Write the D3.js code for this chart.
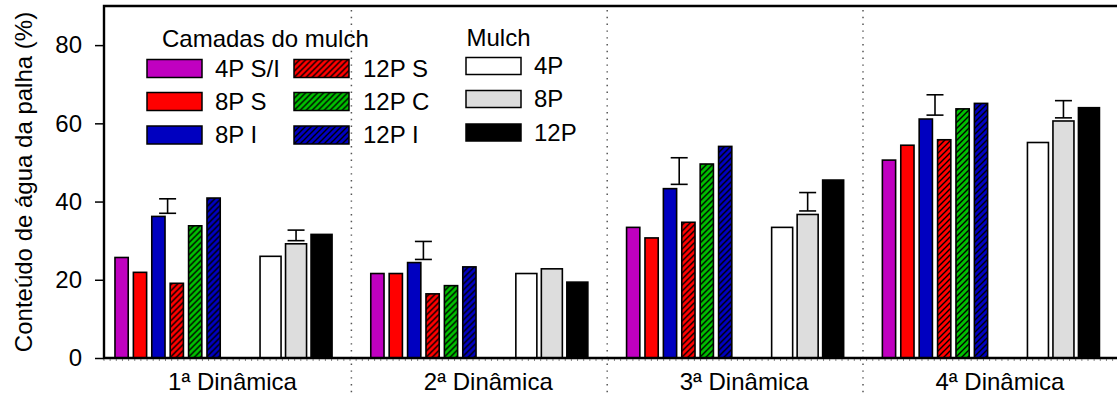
<!DOCTYPE html>
<html>
<head>
<meta charset="utf-8">
<script src="https://cdn.jsdelivr.net/npm/d3@7"></script>
<style>
  html, body { margin: 0; padding: 0; background: #fff; }
  svg { display: block; font-family: "Liberation Sans", Arial, sans-serif; }
</style>
</head>
<body>
<svg id="chart" width="1117" height="396"></svg>
<script>
// Water content of the straw mulch (%) per wetting/drying cycle
const groups = ["1ª Dinâmica", "2ª Dinâmica", "3ª Dinâmica", "4ª Dinâmica"];

// Mulch layers (top / bottom / center of 4, 8 and 12 t straw mulches)
const layers = ["4P S/I", "8P S", "8P I", "12P S", "12P C", "12P I"];
const layerColors = ["#c000c0", "#ff0000", "#0000c0", "#ff0000", "#00c000", "#0000c0"];
const layerHatched = [false, false, false, true, true, true];
const layerValues = [
  [25.7, 21.9, 36.2, 19.1, 33.8, 40.9],
  [21.6, 21.6, 24.4, 16.4, 18.5, 23.3],
  [33.4, 30.7, 43.3, 34.7, 49.6, 54.1],
  [50.6, 54.4, 61.1, 55.8, 63.7, 65.1]
];
// least significant difference bars for the layers (low, high)
const layerLsd = [[37.0, 40.7], [25.2, 29.8], [44.4, 51.2], [62.1, 67.3]];

// Whole mulch amounts
const mulches = ["4P", "8P", "12P"];
const mulchColors = ["#ffffff", "#dddddd", "#000000"];
const mulchValues = [
  [26.0, 29.2, 31.6],
  [21.6, 22.8, 19.4],
  [33.4, 36.7, 45.5],
  [55.1, 60.6, 64.0]
];
const mulchLsd = [[30.0, 32.7], null, [37.6, 42.3], [61.4, 65.8]];

const yTicks = [0, 20, 40, 60, 80];

const svg = d3.select("#chart");
const defs = svg.append("defs");

// diagonal hatching patterns for the 12P layers
function hatch(id, color) {
  const p = defs.append("pattern")
    .attr("id", id)
    .attr("patternUnits", "userSpaceOnUse")
    .attr("width", 6).attr("height", 6);
  p.append("rect").attr("width", 6).attr("height", 6).attr("fill", color);
  p.append("path")
    .attr("d", "M0,6 L6,0 M-1.5,1.5 L1.5,-1.5 M4.5,7.5 L7.5,4.5")
    .attr("stroke", "#000").attr("stroke-width", 1.4);
}
const fillFor = i => {
  if (!layerHatched[i]) return layerColors[i];
  const id = "hatch" + i;
  hatch(id, layerColors[i]);
  return `url(#${id})`;
};
const layerFills = layers.map((d, i) => fillFor(i));

const axisX = 104, axisRight = 1117;
const y = d3.scaleLinear().domain([0, 90]).range([358, 6]);

const xGroup = d3.scaleBand().domain(groups).range([95.6, 1118.8]);
const xLayer = d3.scaleBand().domain(layers).range([16.8, 127.2])
  .paddingInner(0.28).paddingOuter(0.14);
const xMulch = d3.scaleBand().domain(mulches).range([162.2, 238.7])
  .paddingInner(0.176).paddingOuter(0.088);

// dotted separators between cycles
const seps = groups.slice(1).map(g => xGroup(g));
svg.append("g").selectAll("line").data(seps).join("line")
  .attr("x1", d => d).attr("x2", d => d)
  .attr("y1", 10).attr("y2", 396)
  .attr("stroke", "#555").attr("stroke-width", 1.5)
  .attr("stroke-dasharray", "1.4,5.4");

// bars
const gGroups = svg.append("g").selectAll("g").data(groups).join("g")
  .attr("transform", g => `translate(${xGroup(g)},0)`);

gGroups.each(function (g, gi) {
  const sel = d3.select(this);
  sel.selectAll("rect.layer").data(layerValues[gi]).join("rect")
    .attr("class", "layer")
    .attr("x", (d, i) => xLayer(layers[i]))
    .attr("width", xLayer.bandwidth())
    .attr("y", d => y(d))
    .attr("height", d => y(0) - y(d))
    .attr("fill", (d, i) => layerFills[i])
    .attr("stroke", "#000").attr("stroke-width", 1.6);

  sel.selectAll("rect.mulch").data(mulchValues[gi]).join("rect")
    .attr("class", "mulch")
    .attr("x", (d, i) => xMulch(mulches[i]))
    .attr("width", xMulch.bandwidth())
    .attr("y", d => y(d))
    .attr("height", d => y(0) - y(d))
    .attr("fill", (d, i) => mulchColors[i])
    .attr("stroke", "#000").attr("stroke-width", 1.6);

  // LSD bars centred over each cluster
  const lsd = [];
  const lc = (xLayer(layers[0]) + xLayer(layers[5]) + xLayer.bandwidth()) / 2;
  lsd.push({ cx: lc, v: layerLsd[gi] });
  if (mulchLsd[gi]) {
    const mc = (xMulch(mulches[0]) + xMulch(mulches[2]) + xMulch.bandwidth()) / 2;
    lsd.push({ cx: mc, v: mulchLsd[gi] });
  }
  const e = sel.selectAll("g.lsd").data(lsd).join("g").attr("class", "lsd")
    .attr("stroke", "#000").attr("stroke-width", 1.6);
  e.append("line").attr("x1", d => d.cx).attr("x2", d => d.cx)
    .attr("y1", d => y(d.v[0])).attr("y2", d => y(d.v[1]));
  e.append("line").attr("x1", d => d.cx - 8.5).attr("x2", d => d.cx + 8.5)
    .attr("y1", d => y(d.v[0])).attr("y2", d => y(d.v[0]));
  e.append("line").attr("x1", d => d.cx - 8.5).attr("x2", d => d.cx + 8.5)
    .attr("y1", d => y(d.v[1])).attr("y2", d => y(d.v[1]));
});

// small minor ticks along the category axis
const minor = d3.scaleLinear().domain([0, 165]).range([axisX, axisX + 165 * 6.15]);
svg.append("g").selectAll("line").data(minor.ticks(165).filter(t => minor(t) < axisRight))
  .join("line")
  .attr("x1", d => minor(d)).attr("x2", d => minor(d))
  .attr("y1", 358).attr("y2", 361)
  .attr("stroke", "#888").attr("stroke-width", 1);

// y axis
const yAxis = svg.append("g")
  .attr("transform", `translate(${axisX},0)`)
  .call(d3.axisLeft(y).tickValues(yTicks).tickSize(9).tickPadding(13));
yAxis.select(".domain").remove();
yAxis.selectAll(".tick line").attr("stroke", "#000").attr("stroke-width", 1.5);
yAxis.selectAll(".tick text")
  .attr("font-size", 24).attr("fill", "#000")
  .attr("font-family", "'Liberation Sans', Arial, sans-serif");

// frame: left axis, top line, bottom axis
svg.append("path")
  .attr("d", `M${axisRight},${y(90)} H${axisX} V${y(0)} H${axisRight}`)
  .attr("fill", "none").attr("stroke", "#000").attr("stroke-width", 2.4);

// cycle labels
const labelShift = 9;
svg.append("g").selectAll("text").data(groups).join("text")
  .attr("x", g => xGroup(g) + xGroup.bandwidth() / 2 + labelShift)
  .attr("y", 390)
  .attr("text-anchor", "middle")
  .attr("font-size", 24)
  .text(g => g);

// y title
svg.append("text")
  .attr("transform", `translate(32,${(y(0) + y(90)) / 2}) rotate(-90)`)
  .attr("text-anchor", "middle")
  .attr("font-size", 24)
  .text("Conteúdo de água da palha (%)");

// legend: layers
const leg = svg.append("g");
leg.append("text").attr("x", 162).attr("y", 47).attr("font-size", 24).text("Camadas do mulch");
const rowsY = [59.5, 92.5, 126];
const lItems = leg.selectAll("g.li").data(layers).join("g").attr("class", "li")
  .attr("transform", (d, i) => `translate(${i < 3 ? 147 : 294},${rowsY[i % 3]})`);
lItems.append("rect").attr("width", 55).attr("height", 18)
  .attr("fill", (d, i) => layerFills[i])
  .attr("stroke", "#000").attr("stroke-width", 1.5);
lItems.append("text").attr("x", (d, i) => i < 3 ? 68 : 69).attr("y", 17)
  .attr("font-size", 24).text(d => d);

// legend: mulch amounts
leg.append("text").attr("x", 466.5).attr("y", 46).attr("font-size", 24).text("Mulch");
const mRowsY = [57.5, 90.5, 124];
const mItems = leg.selectAll("g.mi").data(mulches).join("g").attr("class", "mi")
  .attr("transform", (d, i) => `translate(466,${mRowsY[i]})`);
mItems.append("rect").attr("width", 55).attr("height", 17)
  .attr("fill", (d, i) => mulchColors[i])
  .attr("stroke", "#000").attr("stroke-width", 1.5);
mItems.append("text").attr("x", 68).attr("y", 16.5)
  .attr("font-size", 24).text(d => d);
</script>
</body>
</html>
